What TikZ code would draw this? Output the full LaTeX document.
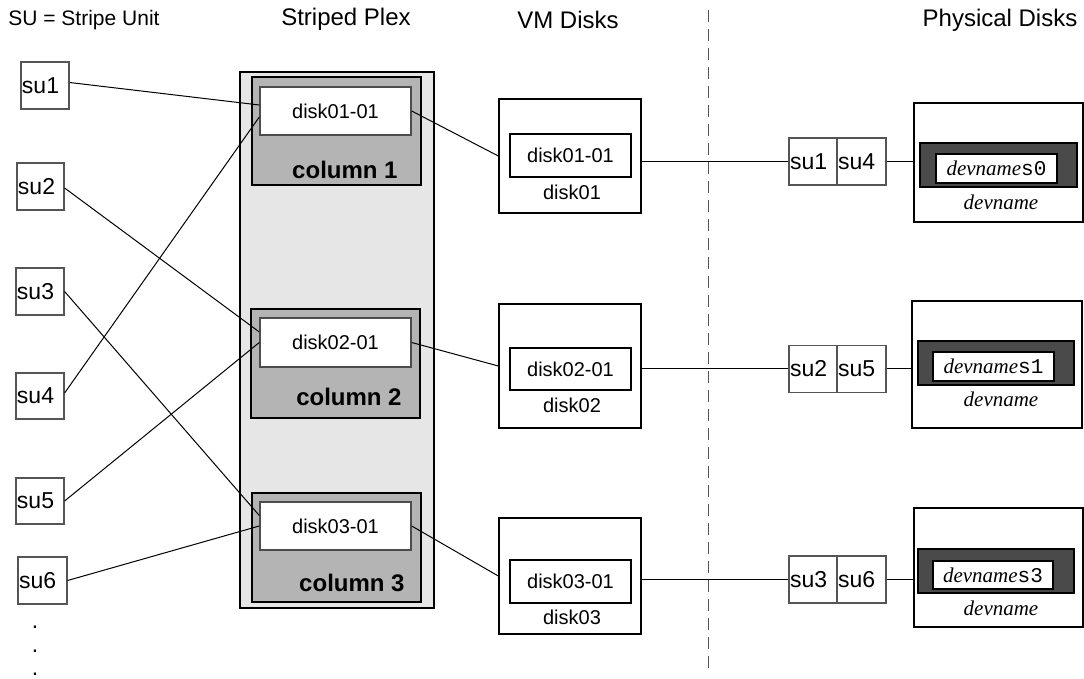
\documentclass[tikz,border=0pt]{standalone}
\usepackage{fontspec}
\setmainfont{Liberation Sans}
\newfontfamily\timesit{Liberation Serif}
\newfontfamily\courier{Liberation Mono}
\newcommand{\devnm}{{\timesit\itshape devname}}
\newcommand{\slice}[1]{{\timesit\itshape devname}{\courier\fontsize{10.5}{12}\selectfont s#1}}
\definecolor{plexfill}{HTML}{E6E6E6}
\definecolor{colfill}{HTML}{B4B4B4}
\definecolor{pdfill}{HTML}{4A4A4A}
\definecolor{sugray}{HTML}{555555}
\begin{document}
\begin{tikzpicture}[x=0.5pt,y=-0.5pt,
  wh/.style n args={2}{minimum width=#1*0.5pt, minimum height=#2*0.5pt},
  box/.style={draw, inner sep=0pt, line width=0.7pt},
  subox/.style={draw=sugray, inner sep=0pt, line width=0.6pt},
  sutext/.style={font=\fontsize{11.5}{13}\selectfont},
  sulbl/.style={label={[anchor=west, inner sep=0.6pt, sutext]west:#1}},
  disktext/.style={font=\fontsize{10}{12}\selectfont},
  header/.style={font=\fontsize{12}{14}\selectfont},
  collbl/.style={font=\fontsize{12}{14}\selectfont\bfseries, anchor=east, inner sep=0pt},
  devlbl/.style={font=\fontsize{10.5}{12}\selectfont, inner sep=0pt},
  conn/.style={line width=0.5pt}]
\useasboundingbox (0,0) rectangle (1084,679);

% headings
\node[font=\fontsize{10.5}{12}\selectfont, anchor=west, inner sep=0pt] (legend) at (8,20) {SU = Stripe Unit};
\node[header] (hplex) at (346,19) {Striped Plex};
\node[header] (hvm) at (568,20) {VM Disks};
\node[header] (hphys) at (1000,20) {Physical Disks};

% separator between logical and physical side
\coordinate (septop) at (708,10);
\coordinate (sepbot) at (708,668);
\draw[sugray, line width=0.5pt, dash pattern=on 6pt off 3.5pt] (septop) -- (sepbot);

% stripe units
\node[subox, wh={48}{47}, sulbl=su1] (su1) at (45,85.5) {};
\node[subox, wh={47}{47}, sulbl=su2] (su2) at (40.5,186.5) {};
\node[subox, wh={48}{47}, sulbl=su3] (su3) at (40,291.5) {};
\node[subox, wh={48}{46}, sulbl=su4] (su4) at (40,396) {};
\node[subox, wh={48}{46}, sulbl=su5] (su5) at (40,501) {};
\node[subox, wh={49}{47}, sulbl=su6] (su6) at (42.5,580.5) {};
\node[sutext, anchor=base, inner sep=0pt] (dot1) at (35,629) {.};
\node[sutext, anchor=base, inner sep=0pt] (dot2) at (35,652.5) {.};
\node[sutext, anchor=base, inner sep=0pt] (dot3) at (35,676) {.};

% striped plex with its three columns
\node[box, fill=plexfill, wh={194}{536}] (plex) at (337,340) {};
\node[box, fill=colfill, wh={169}{108}] (c1) at (336.5,131) {};
\node[box, fill=colfill, wh={169}{109}] (c2) at (335.5,363.5) {};
\node[box, fill=colfill, wh={169}{109}] (c3) at (336.5,547.5) {};
\node[box, draw=black!70, fill=white, wh={151}{48}, disktext] (d1) at (335.5,111) {disk01-01};
\node[box, draw=black!70, fill=white, wh={151}{49}, disktext] (d2) at (335.5,342.5) {disk02-01};
\node[box, draw=black!70, fill=white, wh={151}{48}, disktext] (d3) at (335.5,526) {disk03-01};
\node[collbl] (c1l) at (398,170) {column 1};
\node[collbl] (c2l) at (402,397) {column 2};
\node[collbl] (c3l) at (405,583) {column 3};

% VM disks
\node[box, wh={142}{114}] (vm1) at (570,156) {};
\node[box, wh={142}{124}] (vm2) at (570,366) {};
\node[box, wh={142}{116}] (vm3) at (570,576) {};
\node[box, wh={121}{43}, disktext] (s1) at (570.5,155.5) {disk01-01};
\node[box, wh={121}{42}, disktext] (s2) at (570.5,369) {disk02-01};
\node[box, wh={121}{43}, disktext] (s3) at (570.5,581.5) {disk03-01};
\node[disktext, inner sep=0pt] (n1) at (572,192) {disk01};
\node[disktext, inner sep=0pt] (n2) at (572,405) {disk02};
\node[disktext, inner sep=0pt] (n3) at (572,617) {disk03};

% stripe units as laid out on each physical disk
\node[subox, wh={48}{47}, sulbl=su1] (p1a) at (813,161.5) {};
\node[subox, wh={49}{47}, sulbl=su4] (p1b) at (861.5,161.5) {};
\node[subox, wh={48}{47}, sulbl=su2] (p2a) at (813,369) {};
\node[subox, wh={49}{47}, sulbl=su5] (p2b) at (861.5,369) {};
\node[subox, wh={48}{47}, sulbl=su3] (p3a) at (813,579.5) {};
\node[subox, wh={49}{47}, sulbl=su6] (p3b) at (861.5,579.5) {};

% physical disks
\node[box, wh={169}{119}] (pd1) at (998.5,162.5) {};
\node[box, wh={170}{127}] (pd2) at (997,364.5) {};
\node[box, wh={169}{119}] (pd3) at (998.5,567.5) {};
\node[box, fill=pdfill, wh={157}{44}] (k1) at (998.5,165) {};
\node[box, fill=pdfill, wh={156}{44}] (k2) at (996,363) {};
\node[box, fill=pdfill, wh={156}{44}] (k3) at (996,571) {};
\node[box, fill=white, wh={121}{29}, devlbl] (w1) at (996.5,168.5) {\slice{0}};
\node[box, fill=white, wh={121}{29}, devlbl] (w2) at (993.5,366.5) {\slice{1}};
\node[box, fill=white, wh={120}{28}, devlbl] (w3) at (993,575) {\slice{3}};
\node[devlbl] (m1) at (1001,202) {\devnm};
\node[devlbl] (m2) at (1001,399) {\devnm};
\node[devlbl] (m3) at (1001,608) {\devnm};

% stripe units to subdisks
\draw[conn] ([yshift=1.5pt]su1.east) -- ([yshift=3pt]d1.west);
\draw[conn] ([yshift=1.5pt]su4.east) -- ([yshift=-3pt]d1.west);
\draw[conn] ([yshift=-0.75pt]su2.east) -- ([yshift=5.25pt]d2.west);
\draw[conn] (su5.east) -- (d2.west);
\draw[conn] (su3.east) -- ([yshift=5.25pt]d3.west);
\draw[conn] (su6.east) -- (d3.west);

% subdisks to VM disks
\draw[conn] (d1.east) -- (vm1.west);
\draw[conn] (d2.east) -- (vm2.west);
\draw[conn] (d3.east) -- (vm3.west);

% VM disks to physical disks
\draw[conn] (p1a.west) -- (p1a.west -| vm1.east);
\draw[conn] (p2a.west) -- (p2a.west -| vm2.east);
\draw[conn] (p3a.west) -- (p3a.west -| vm3.east);
\draw[conn] (p1b.east) -- (p1b.east -| pd1.west);
\draw[conn] (p2b.east) -- (p2b.east -| pd2.west);
\draw[conn] (p3b.east) -- (p3b.east -| pd3.west);
\end{tikzpicture}
\end{document}
